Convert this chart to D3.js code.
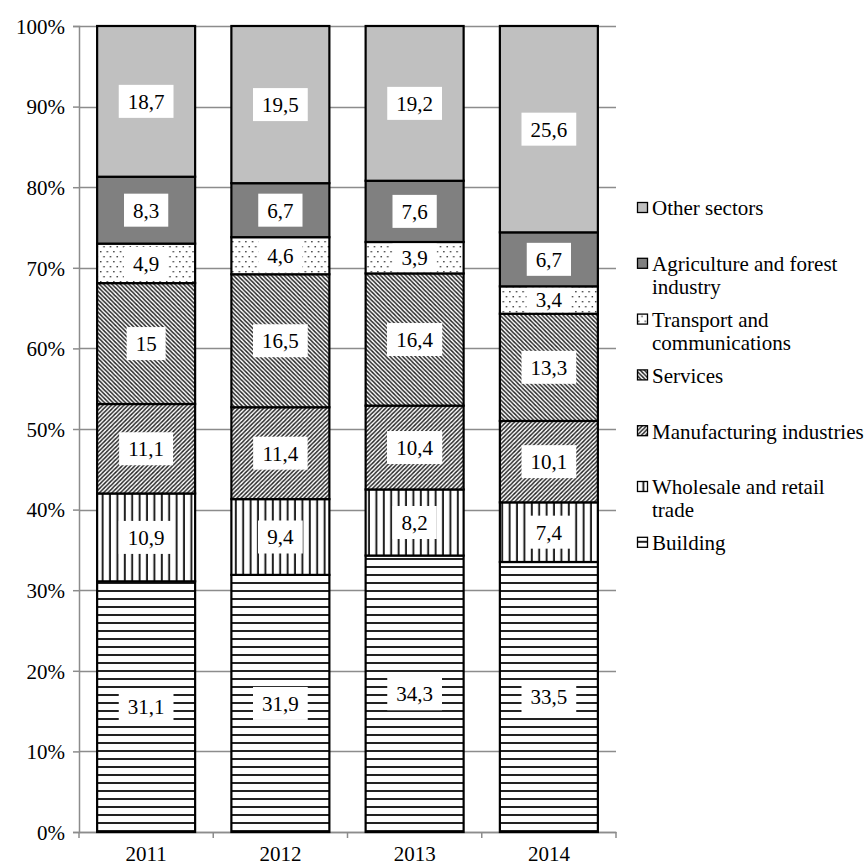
<!DOCTYPE html>
<html>
<head>
<meta charset="utf-8">
<script src="https://cdn.jsdelivr.net/npm/d3@7"></script>
<style>
  html, body { margin: 0; padding: 0; background: #fff; }
  svg { display: block; }
  svg text { font-family: "Liberation Serif", "Times New Roman", serif; }
</style>
</head>
<body>
<svg id="chart" width="868" height="866"></svg>
<script>
// Employment structure by sector, shares in percent
const years = ["2011", "2012", "2013", "2014"];
const sectors = [
  "Building",
  "Wholesale and retail trade",
  "Manufacturing industries",
  "Services",
  "Transport and communications",
  "Agriculture and forest industry",
  "Other sectors"
];
const building      = [31.1, 31.9, 34.3, 33.5];
const wholesale     = [10.9, 9.4, 8.2, 7.4];
const manufacturing = [11.1, 11.4, 10.4, 10.1];
const services      = [15, 16.5, 16.4, 13.3];
const transport     = [4.9, 4.6, 3.9, 3.4];
const agriculture   = [8.3, 6.7, 7.6, 6.7];
const other         = [18.7, 19.5, 19.2, 25.6];
const yTicks = [0, 10, 20, 30, 40, 50, 60, 70, 80, 90, 100];

const seriesValues = [building, wholesale, manufacturing, services, transport, agriculture, other];
const legendLines = [
  ["Other sectors"],
  ["Agriculture and forest", "industry"],
  ["Transport and", "communications"],
  ["Services"],
  ["Manufacturing industries"],
  ["Wholesale and retail", "trade"],
  ["Building"]
];

const rows = years.map((y, i) => {
  const r = { year: y };
  sectors.forEach((s, k) => { r[s] = seriesValues[k][i]; });
  return r;
});

const svg = d3.select("#chart");
const defs = svg.append("defs");
const FONT = "Liberation Serif, Times New Roman, serif";

// Fill patterns for each sector
function pat(id, w, h, build, bg) {
  const p = defs.append("pattern").attr("id", id)
    .attr("patternUnits", "userSpaceOnUse")
    .attr("width", w).attr("height", h);
  p.append("rect").attr("width", w).attr("height", h).attr("fill", bg || "#fff");
  build(p, w, h);
  return `url(#${id})`;
}
const fills = {};
fills["Building"] = pat("p-horiz", 8, 8, (p) => {
  p.append("rect").attr("x", 0).attr("y", 6).attr("width", 8).attr("height", 2).attr("fill", "#222");
});
fills["Wholesale and retail trade"] = pat("p-vert", 7.4, 7.4, (p) => {
  p.append("rect").attr("x", 5.4).attr("y", 0).attr("width", 2).attr("height", 7.4).attr("fill", "#222");
});
fills["Manufacturing industries"] = pat("p-up", 4.2, 4.2, (p, s) => {
  p.append("path").attr("d", `M0,${s} L${s},0 M${-s / 2},${s / 2} L${s / 2},${-s / 2} M${s / 2},${s * 1.5} L${s * 1.5},${s / 2}`)
    .attr("stroke", "#222").attr("stroke-width", 1.4);
});
fills["Services"] = pat("p-down", 4.2, 4.2, (p, s) => {
  p.append("path").attr("d", `M0,0 L${s},${s} M${-s / 2},${s / 2} L${s / 2},${s * 1.5} M${s / 2},${-s / 2} L${s * 1.5},${s / 2}`)
    .attr("stroke", "#222").attr("stroke-width", 1.4);
});
fills["Transport and communications"] = pat("p-dots", 6.6, 10, (p) => {
  p.append("rect").attr("x", 1).attr("y", 1).attr("width", 1.4).attr("height", 1.4).attr("fill", "#333");
  p.append("rect").attr("x", 4.3).attr("y", 6).attr("width", 1.4).attr("height", 1.4).attr("fill", "#333");
});
fills["Agriculture and forest industry"] = "#808080";
fills["Other sectors"] = "#c0c0c0";

const margin = { left: 79, right: 616, top: 26, bottom: 832 };

const x = d3.scaleBand().domain(years).range([margin.left, margin.right]).paddingInner(0.27).paddingOuter(0.135);
const y = d3.scaleLinear().domain([0, 100]).range([margin.bottom, margin.top]);

// gridlines
svg.append("g").selectAll("line").data(yTicks).join("line")
  .attr("x1", margin.left).attr("x2", margin.right)
  .attr("y1", d => Math.round(y(d)) + 0.5).attr("y2", d => Math.round(y(d)) + 0.5)
  .attr("stroke", "#8c8c8c").attr("stroke-width", 1.5);

// y axis
const yAxis = svg.append("g").attr("transform", `translate(${margin.left},0)`)
  .call(d3.axisLeft(y).tickValues(yTicks).tickFormat(d => d + "%").tickSize(6).tickPadding(8));
yAxis.attr("font-family", FONT);
yAxis.select(".domain").attr("stroke", "#8c8c8c").attr("stroke-width", 1.5);
yAxis.selectAll(".tick line").attr("stroke", "#8c8c8c").attr("stroke-width", 1.5);
yAxis.selectAll("text").attr("font-size", 21).attr("fill", "#000").attr("dy", "0.35em");

// x axis
const xAxis = svg.append("g").attr("transform", `translate(0,${margin.bottom})`)
  .call(d3.axisBottom(x).tickSize(0).tickPadding(14));
xAxis.attr("font-family", FONT);
xAxis.select(".domain").attr("stroke", "#8c8c8c").attr("stroke-width", 1.5);
xAxis.selectAll("text").attr("font-size", 21).attr("fill", "#000");
// category separator ticks
const bounds = d3.range(years.length + 1).map(i => margin.left + i * x.step());
svg.append("g").selectAll("line").data(bounds).join("line")
  .attr("x1", d => d).attr("x2", d => d)
  .attr("y1", margin.bottom).attr("y2", margin.bottom + 6)
  .attr("stroke", "#8c8c8c").attr("stroke-width", 1.5);

// stacked bars
const stack = d3.stack().keys(sectors);
const layers = stack(rows);

const layerG = svg.append("g").selectAll("g").data(layers).join("g")
  .attr("fill", d => fills[d.key]);
layerG.selectAll("rect").data(d => d).join("rect")
  .attr("x", d => x(d.data.year))
  .attr("width", x.bandwidth())
  .attr("y", d => y(d[1]))
  .attr("height", d => y(d[0]) - y(d[1]))
  .attr("stroke", "#000").attr("stroke-width", 2.2);

// value labels on white boxes
const labels = [];
layers.forEach(layer => layer.forEach(d => {
  labels.push({ year: d.data.year, value: d.data[layer.key], y0: y(d[0]), y1: y(d[1]) });
}));
const fmt = v => String(v).replace(".", ",");
const lg = svg.append("g").selectAll("g").data(labels).join("g")
  .attr("transform", d => `translate(${x(d.year) + x.bandwidth() / 2},${(d.y0 + d.y1) / 2})`);
lg.append("text")
  .attr("text-anchor", "middle").attr("dy", "0.35em")
  .attr("font-size", 21).attr("fill", "#000")
  .text(d => fmt(d.value));
lg.each(function (d) {
  const g = d3.select(this);
  const bb = g.select("text").node().getBBox();
  const h = Math.min(33, d.y0 - d.y1 - 3);
  g.insert("rect", "text")
    .attr("x", -bb.width / 2 - 9).attr("width", bb.width + 18)
    .attr("y", -h / 2).attr("height", h)
    .attr("fill", "#fff");
});

// legend
const legendTop = 208, legendStep = 55.8, lineH = 23;
const legendKeys = sectors.slice().reverse();
const leg = svg.append("g").selectAll("g").data(legendKeys).join("g")
  .attr("transform", (d, i) => `translate(637,${legendTop + i * legendStep})`);
leg.append("rect").attr("x", 0.5).attr("y", -5.5).attr("width", 10).attr("height", 10)
  .attr("fill", d => fills[d]).attr("stroke", "#000").attr("stroke-width", 1.3);
leg.each(function (d, i) {
  const t = d3.select(this).append("text").attr("font-size", 21).attr("fill", "#000");
  legendLines[i].forEach((ln, j) => {
    t.append("tspan").attr("x", 15).attr("y", j * lineH).attr("dy", "0.35em").text(ln);
  });
});
</script>
</body>
</html>
